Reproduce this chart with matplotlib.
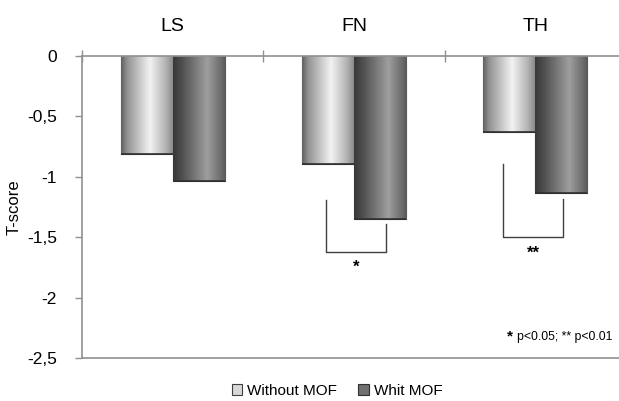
import matplotlib.pyplot as plt
import numpy as np

plt.rcParams['font.family'] = ['Liberation Sans', 'DejaVu Sans']

# T-score means by site
sites = ['LS', 'FN', 'TH']
without_mof = [-0.81, -0.895, -0.63]
whit_mof = [-1.035, -1.35, -1.13]
yticks = [0, -0.5, -1, -1.5, -2, -2.5]
ytick_labels = ['0', '-0,5', '-1', '-1,5', '-2', '-2,5']

fig = plt.figure(figsize=(6.19, 4.01), dpi=100)
ax = fig.add_axes([82 / 619, 1 - 358 / 401, 544 / 619, 302 / 401])

x = np.arange(len(sites))
w = 0.287
b1 = ax.bar(x - w / 2, without_mof, w, color='#d0d0d0', edgecolor='#404040', linewidth=0.8, zorder=2)
b2 = ax.bar(x + w / 2, whit_mof, w, color='#707070', edgecolor='#303030', linewidth=0.8, zorder=2)

# cylinder-like horizontal shading on each bar
def shade(bars, stops, levels):
    t = np.linspace(0, 1, 200)
    row = np.interp(t, stops, levels)
    img = np.tile(row, (2, 1))
    for p in bars:
        x0, y0 = p.get_x(), p.get_y()
        x1, y1 = x0 + p.get_width(), y0 + p.get_height()
        im = ax.imshow(img, cmap='gray', vmin=0, vmax=1, aspect='auto',
                       extent=[x0, x1, min(y0, y1), max(y0, y1)], zorder=2.5,
                       interpolation='bilinear')
        im.set_clip_path(p)
        ax.plot([x0, x1], [min(y0, y1)] * 2, color='#303030', lw=1.2, zorder=3,
                solid_capstyle='butt')

shade(b1, [0, 0.12, 0.55, 0.85, 1], [0.38, 0.58, 0.95, 0.70, 0.52])
shade(b2, [0, 0.15, 0.65, 0.9, 1], [0.22, 0.30, 0.62, 0.43, 0.35])

ax.set_xlim(-0.5, 2.5)
ax.set_ylim(-2.5, 0)
ax.set_yticks(yticks)
ax.set_yticklabels(ytick_labels, fontsize=12.5)
ax.tick_params(axis='y', direction='out', length=5, color='#909090', width=1, pad=13)
ax.set_ylabel('T-score', fontsize=12, labelpad=4)

# category axis runs along y=0 at the top
ax.xaxis.set_ticks_position('top')
ax.set_xticks([-0.5, 0.5, 1.5])
ax.set_xticklabels([])
ax.tick_params(axis='x', which='major', direction='inout', length=9, color='#909090', width=1)
ax.set_xticks(x, minor=True)
ax.set_xticklabels(sites, minor=True, fontsize=14)
ax.tick_params(axis='x', which='minor', length=0, pad=15)

for s in ['top', 'left', 'bottom']:
    ax.spines[s].set_color('#909090')
    ax.spines[s].set_linewidth(1.2)
ax.spines['right'].set_visible(False)

# significance brackets
brackets = [
    (0.847, 1.177, -1.19, -1.39, -1.62, '*', -1.75),
    (1.824, 2.150, -0.89, -1.18, -1.50, '**', -1.63),
]
for xl, xr, yl, yr, yb, mark, ym in brackets:
    ax.plot([xl, xl, xr, xr], [yl, yb, yb, yr], color='#404040', lw=1, zorder=4)
    ax.text((xl + xr) / 2, ym, mark, ha='center', va='center', fontsize=12, fontweight='bold')

fig.text(612 / 619, 1 - 337 / 401, 'p<0.05; ** p<0.01', ha='right', va='center', fontsize=8.8)
fig.text(513 / 619, 1 - 336 / 401, '*', ha='right', va='center', fontsize=11, fontweight='bold')

# legend
h1 = plt.Rectangle((0, 0), 1, 1, facecolor='#d8d8d8', edgecolor='#404040', lw=0.8)
h2 = plt.Rectangle((0, 0), 1, 1, facecolor='#707070', edgecolor='#303030', lw=0.8)
fig.legend([h1, h2], ['Without MOF', 'Whit MOF'], loc='center', bbox_to_anchor=(337 / 619, 1 - 391 / 401),
           ncol=2, frameon=False, fontsize=11, handlelength=0.7, handleheight=0.7,
           handletextpad=0.3, columnspacing=1.4)

fig.savefig('out.png', dpi=100)
